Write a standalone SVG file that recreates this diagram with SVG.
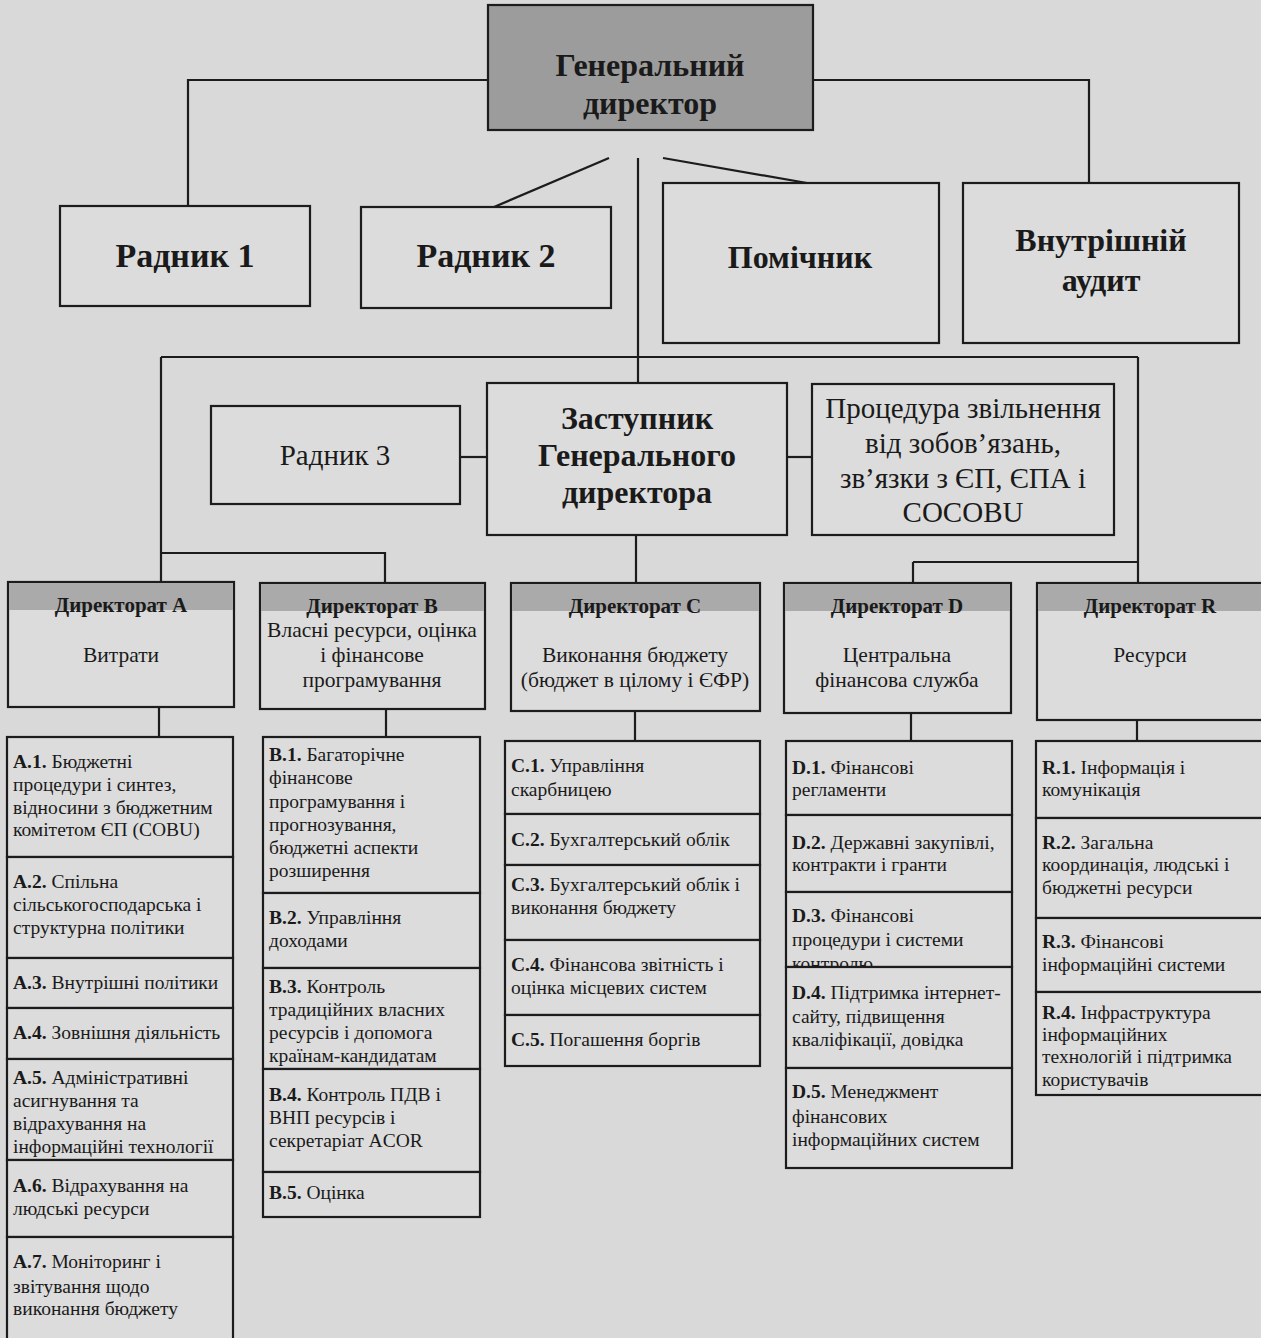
<svg xmlns="http://www.w3.org/2000/svg" width="1261" height="1338" viewBox="0 0 1261 1338">
<style>
.bx{fill:#dcdcdc;stroke:#1c1c1c;stroke-width:2.2}
.gd{fill:#9c9c9c;stroke:#1c1c1c;stroke-width:2.2}
.hd{fill:#aaaaaa;stroke:none}
.ln{fill:none;stroke:#1c1c1c;stroke-width:2.2}
text{font-family:"Liberation Serif","DejaVu Serif",serif;fill:#1a1a1a}
.t1{font-size:32px;font-weight:bold;text-anchor:middle}
.t1b{font-size:34px;font-weight:bold;text-anchor:middle}
.t2{font-size:29px;text-anchor:middle}
.dh{font-size:21px;font-weight:bold;text-anchor:middle}
.ds{font-size:21.5px;text-anchor:middle}
.s{font-size:19.5px}
.b{font-weight:bold}
</style>
<rect x="0" y="0" width="1261" height="1338" fill="#d9d9d9"/>

<g id="connectors" class="ln">
<path d="M488 80H188V206"/>
<path d="M813 80H1089V183"/>
<path d="M494 207L609 158"/>
<path d="M663 158L807 183"/>
<path d="M638 158V383"/>
<path d="M161 357H1138"/>
<path d="M161 357V582"/>
<path d="M161 553H385V583"/>
<path d="M1138 357V583"/>
<path d="M913 562H1138"/>
<path d="M913 562V583"/>
<path d="M460 457H487"/>
<path d="M787 457H812"/>
<path d="M636 535V583"/>
<path d="M159 707V737"/>
<path d="M386 709V737"/>
<path d="M635 711V741"/>
<path d="M911 713V741"/>
<path d="M1137 720V741"/>
</g>

<g id="gen-director">
<rect class="gd" x="488" y="5" width="325" height="125"/>
<text class="t1" x="650" y="76">Генеральний</text>
<text class="t1" x="650" y="114">директор</text>
</g>

<g id="radnyk1">
<rect class="bx" x="60" y="206" width="250" height="100"/>
<text class="t1b" x="185" y="267">Радник 1</text>
</g>
<g id="radnyk2">
<rect class="bx" x="361" y="207" width="250" height="101"/>
<text class="t1b" x="486" y="267">Радник 2</text>
</g>
<g id="pomichnyk">
<rect class="bx" x="663" y="183" width="276" height="160"/>
<text class="t1" x="800" y="268">Помічник</text>
</g>
<g id="audit">
<rect class="bx" x="963" y="183" width="276" height="160"/>
<text class="t1" x="1101" y="251">Внутрішній</text>
<text class="t1" x="1101" y="291">аудит</text>
</g>

<g id="radnyk3">
<rect class="bx" x="211" y="406" width="249" height="98"/>
<text class="t2" x="335" y="465">Радник 3</text>
</g>
<g id="zastupnyk">
<rect class="bx" x="487" y="383" width="300" height="152"/>
<text class="t1" x="637" y="429">Заступник</text>
<text class="t1" x="637" y="466">Генерального</text>
<text class="t1" x="637" y="503">директора</text>
</g>
<g id="protsedura">
<rect class="bx" x="812" y="384" width="302" height="151"/>
<text class="t2" x="963" y="418">Процедура звільнення</text>
<text class="t2" x="963" y="453">від зобов’язань,</text>
<text class="t2" x="963" y="488">зв’язки з ЄП, ЄПА і</text>
<text class="t2" x="963" y="522">COCOBU</text>
</g>

<g id="dir-a">
<rect class="bx" x="8" y="582" width="226" height="125"/>
<rect class="hd" x="9" y="583" width="224" height="27"/>
<text class="dh" x="121" y="612">Директорат А</text>
<text class="ds" x="121" y="662">Витрати</text>
</g>
<g id="dir-b">
<rect class="bx" x="260" y="583" width="225" height="126"/>
<rect class="hd" x="261" y="584" width="223" height="27"/>
<text class="dh" x="372" y="613">Директорат В</text>
<text class="ds" x="372" y="637">Власні ресурси, оцінка</text>
<text class="ds" x="372" y="662">і фінансове</text>
<text class="ds" x="372" y="687">програмування</text>
</g>
<g id="dir-c">
<rect class="bx" x="511" y="583" width="249" height="128"/>
<rect class="hd" x="512" y="584" width="247" height="27"/>
<text class="dh" x="635" y="613">Директорат С</text>
<text class="ds" x="635" y="662">Виконання бюджету</text>
<text class="ds" x="635" y="687">(бюджет в цілому і ЄФР)</text>
</g>
<g id="dir-d">
<rect class="bx" x="784" y="583" width="227" height="130"/>
<rect class="hd" x="785" y="584" width="225" height="27"/>
<text class="dh" x="897" y="613">Директорат D</text>
<text class="ds" x="897" y="662">Центральна</text>
<text class="ds" x="897" y="687">фінансова служба</text>
</g>
<g id="dir-r">
<rect class="bx" x="1037" y="583" width="240" height="137"/>
<rect class="hd" x="1038" y="584" width="238" height="27"/>
<text class="dh" x="1150" y="613">Директорат R</text>
<text class="ds" x="1150" y="662">Ресурси</text>
</g>

<g id="col-a">
<rect class="bx" x="7" y="737" width="226" height="120"/>
<text class="s" x="13" y="768"><tspan class="b">А.1.</tspan> Бюджетні</text>
<text class="s" x="13" y="791">процедури і синтез,</text>
<text class="s" x="13" y="814">відносини з бюджетним</text>
<text class="s" x="13" y="836">комітетом ЄП (COBU)</text>
<rect class="bx" x="7" y="857" width="226" height="101"/>
<text class="s" x="13" y="888"><tspan class="b">А.2.</tspan> Спільна</text>
<text class="s" x="13" y="911">сільськогосподарська і</text>
<text class="s" x="13" y="934">структурна політики</text>
<rect class="bx" x="7" y="958" width="226" height="50"/>
<text class="s" x="13" y="989"><tspan class="b">А.3.</tspan> Внутрішні політики</text>
<rect class="bx" x="7" y="1008" width="226" height="51"/>
<text class="s" x="13" y="1039"><tspan class="b">А.4.</tspan> Зовнішня діяльність</text>
<rect class="bx" x="7" y="1059" width="226" height="101"/>
<text class="s" x="13" y="1084"><tspan class="b">А.5.</tspan> Адміністративні</text>
<text class="s" x="13" y="1107">асигнування та</text>
<text class="s" x="13" y="1130">відрахування на</text>
<text class="s" x="13" y="1153">інформаційні технології</text>
<rect class="bx" x="7" y="1160" width="226" height="77"/>
<text class="s" x="13" y="1192"><tspan class="b">А.6.</tspan> Відрахування на</text>
<text class="s" x="13" y="1215">людські ресурси</text>
<rect class="bx" x="7" y="1237" width="226" height="110"/>
<text class="s" x="13" y="1268"><tspan class="b">А.7.</tspan> Моніторинг і</text>
<text class="s" x="13" y="1293">звітування щодо</text>
<text class="s" x="13" y="1315">виконання бюджету</text>
</g>

<g id="col-b">
<rect class="bx" x="263" y="737" width="217" height="156"/>
<text class="s" x="269" y="761"><tspan class="b">В.1.</tspan> Багаторічне</text>
<text class="s" x="269" y="784">фінансове</text>
<text class="s" x="269" y="808">програмування і</text>
<text class="s" x="269" y="831">прогнозування,</text>
<text class="s" x="269" y="854">бюджетні аспекти</text>
<text class="s" x="269" y="877">розширення</text>
<rect class="bx" x="263" y="893" width="217" height="75"/>
<text class="s" x="269" y="924"><tspan class="b">В.2.</tspan> Управління</text>
<text class="s" x="269" y="947">доходами</text>
<rect class="bx" x="263" y="968" width="217" height="101"/>
<text class="s" x="269" y="993"><tspan class="b">В.3.</tspan> Контроль</text>
<text class="s" x="269" y="1016">традиційних власних</text>
<text class="s" x="269" y="1039">ресурсів і допомога</text>
<text class="s" x="269" y="1062">країнам-кандидатам</text>
<rect class="bx" x="263" y="1069" width="217" height="103"/>
<text class="s" x="269" y="1101"><tspan class="b">В.4.</tspan> Контроль ПДВ і</text>
<text class="s" x="269" y="1124">ВНП ресурсів і</text>
<text class="s" x="269" y="1147">секретаріат ACOR</text>
<rect class="bx" x="263" y="1172" width="217" height="45"/>
<text class="s" x="269" y="1199"><tspan class="b">В.5.</tspan> Оцінка</text>
</g>

<g id="col-c">
<rect class="bx" x="505" y="741" width="255" height="73"/>
<text class="s" x="511" y="772"><tspan class="b">С.1.</tspan> Управління</text>
<text class="s" x="511" y="796">скарбницею</text>
<rect class="bx" x="505" y="814" width="255" height="51"/>
<text class="s" x="511" y="846"><tspan class="b">С.2.</tspan> Бухгалтерський облік</text>
<rect class="bx" x="505" y="865" width="255" height="75"/>
<text class="s" x="511" y="891"><tspan class="b">С.3.</tspan> Бухгалтерський облік і</text>
<text class="s" x="511" y="914">виконання бюджету</text>
<rect class="bx" x="505" y="940" width="255" height="75"/>
<text class="s" x="511" y="971"><tspan class="b">С.4.</tspan> Фінансова звітність і</text>
<text class="s" x="511" y="994">оцінка місцевих систем</text>
<rect class="bx" x="505" y="1015" width="255" height="51"/>
<text class="s" x="511" y="1046"><tspan class="b">С.5.</tspan> Погашення боргів</text>
</g>

<g id="col-d">
<rect class="bx" x="786" y="741" width="226" height="74"/>
<text class="s" x="792" y="774"><tspan class="b">D.1.</tspan> Фінансові</text>
<text class="s" x="792" y="796">регламенти</text>
<rect class="bx" x="786" y="815" width="226" height="77"/>
<text class="s" x="792" y="849"><tspan class="b">D.2.</tspan> Державні закупівлі,</text>
<text class="s" x="792" y="871">контракти і гранти</text>
<rect class="bx" x="786" y="892" width="226" height="75"/>
<text class="s" x="792" y="922"><tspan class="b">D.3.</tspan> Фінансові</text>
<text class="s" x="792" y="946">процедури і системи</text>
<text class="s" x="792" y="970">контролю</text>
<rect class="bx" x="786" y="967" width="226" height="101"/>
<text class="s" x="792" y="999"><tspan class="b">D.4.</tspan> Підтримка інтернет-</text>
<text class="s" x="792" y="1023">сайту, підвищення</text>
<text class="s" x="792" y="1046">кваліфікації, довідка</text>
<rect class="bx" x="786" y="1068" width="226" height="100"/>
<text class="s" x="792" y="1098"><tspan class="b">D.5.</tspan> Менеджмент</text>
<text class="s" x="792" y="1123">фінансових</text>
<text class="s" x="792" y="1146">інформаційних систем</text>
</g>

<g id="col-r">
<rect class="bx" x="1036" y="741" width="240" height="77"/>
<text class="s" x="1042" y="774"><tspan class="b">R.1.</tspan> Інформація і</text>
<text class="s" x="1042" y="796">комунікація</text>
<rect class="bx" x="1036" y="818" width="240" height="100"/>
<text class="s" x="1042" y="849"><tspan class="b">R.2.</tspan> Загальна</text>
<text class="s" x="1042" y="871">координація, людські і</text>
<text class="s" x="1042" y="894">бюджетні ресурси</text>
<rect class="bx" x="1036" y="918" width="240" height="74"/>
<text class="s" x="1042" y="948"><tspan class="b">R.3.</tspan> Фінансові</text>
<text class="s" x="1042" y="971">інформаційні системи</text>
<rect class="bx" x="1036" y="992" width="240" height="103"/>
<text class="s" x="1042" y="1019"><tspan class="b">R.4.</tspan> Інфраструктура</text>
<text class="s" x="1042" y="1041">інформаційних</text>
<text class="s" x="1042" y="1063">технологій і підтримка</text>
<text class="s" x="1042" y="1086">користувачів</text>
</g>
</svg>
